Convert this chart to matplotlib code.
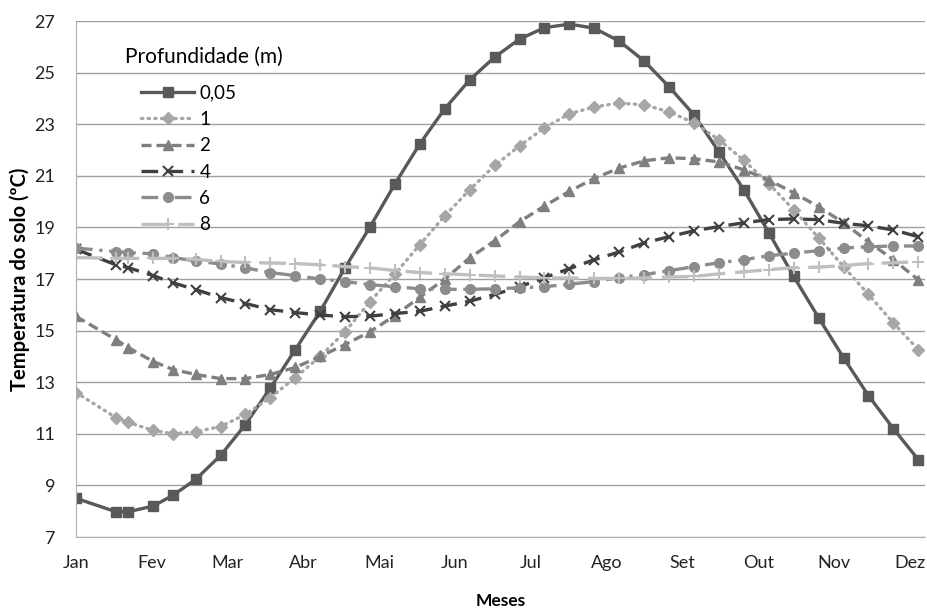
import matplotlib
matplotlib.use("Agg")
import matplotlib.pyplot as plt
import numpy as np

plt.rcParams['font.family'] = ['Lato', 'DejaVu Sans']

# Data (day of year)
days = [0, 16, 21, 31, 39, 48, 58, 68, 78, 88, 98, 108, 118, 128, 138, 148, 158, 168,
        178, 188, 198, 208, 218, 228, 238, 248, 258, 268, 278, 288, 298, 308, 318, 328, 338]

meses = ["Jan", "Fev", "Mar", "Abr", "Mai", "Jun", "Jul", "Ago", "Set", "Out", "Nov", "Dez"]

t_005 = [8.5, 7.98, 7.98, 8.2, 8.62, 9.23, 10.16, 11.36, 12.78, 14.26, 15.75, 17.44, 19.02,
         20.69, 22.24, 23.6, 24.72, 25.6, 26.3, 26.74, 26.88, 26.72, 26.22, 25.45, 24.45,
         23.36, 21.93, 20.46, 18.8, 17.1, 15.5, 13.95, 12.48, 11.2, 10.0]
t_1 = [12.6, 11.63, 11.44, 11.13, 11.0, 11.08, 11.28, 11.75, 12.4, 13.18, 14.0, 14.96, 16.12,
       17.2, 18.33, 19.45, 20.46, 21.4, 22.16, 22.86, 23.4, 23.67, 23.82, 23.75, 23.48,
       23.05, 22.4, 21.6, 20.7, 19.68, 18.6, 17.48, 16.4, 15.3, 14.26]
t_2 = [15.55, 14.65, 14.34, 13.8, 13.49, 13.3, 13.14, 13.14, 13.3, 13.57, 14.0, 14.46, 14.96,
       15.58, 16.3, 17.0, 17.82, 18.48, 19.22, 19.83, 20.4, 20.9, 21.3, 21.58, 21.7,
       21.66, 21.54, 21.23, 20.84, 20.34, 19.8, 19.18, 18.44, 17.75, 16.97]
t_4 = [18.15, 17.55, 17.44, 17.13, 16.85, 16.59, 16.28, 16.05, 15.81, 15.7, 15.6, 15.54, 15.56,
       15.66, 15.75, 15.95, 16.14, 16.4, 16.7, 17.05, 17.4, 17.75, 18.05, 18.4, 18.64,
       18.87, 19.03, 19.18, 19.3, 19.33, 19.3, 19.16, 19.06, 18.9, 18.64]
t_6 = [18.2, 18.06, 18.02, 17.98, 17.83, 17.7, 17.58, 17.43, 17.25, 17.13, 17.0, 16.9, 16.78,
       16.7, 16.62, 16.6, 16.6, 16.62, 16.66, 16.7, 16.8, 16.9, 17.05, 17.17, 17.32,
       17.48, 17.63, 17.75, 17.9, 18.0, 18.1, 18.2, 18.25, 18.28, 18.28]
t_8 = [17.83, 17.8, 17.8, 17.8, 17.8, 17.76, 17.68, 17.64, 17.62, 17.6, 17.55, 17.48, 17.43,
       17.33, 17.25, 17.2, 17.16, 17.12, 17.08, 17.04, 17.04, 17.02, 17.02, 17.04, 17.08,
       17.1, 17.2, 17.28, 17.36, 17.44, 17.46, 17.52, 17.6, 17.63, 17.67]

fig = plt.figure(figsize=(9.27, 6.09), dpi=100)
ax = fig.add_axes([76/927, 1 - 537/609, 849/927, 516/609])

ax.plot(days, t_005, label="0,05", color="#595959", lw=2.4, marker="s", ms=7)
ax.plot(days, t_1, label="1", color="#a6a6a6", lw=2.4, ls=(0, (0.4, 1.6)),
        dash_capstyle="round", marker="D", ms=6)
ax.plot(days, t_2, label="2", color="#7f7f7f", lw=2.4, ls=(0, (3, 1.5)), marker="^", ms=7)
ax.plot(days, t_4, label="4", color="#404040", lw=2.4, ls=(0, (5, 2.5)), marker="x", ms=7, mew=1.5)
ax.plot(days, t_6, label="6", color="#8c8c8c", lw=2.4, ls=(0, (5, 2, 1, 2)), marker="o", ms=7)
ax.plot(days, t_8, label="8", color="#bfbfbf", lw=2.4, ls=(0, (8, 3)), marker="+", ms=8, mew=1.5)

ax.set_xlim(0, 340.7)
ax.set_ylim(7, 27)
ax.set_yticks(np.arange(7, 28, 2))
ax.set_xticks(np.arange(12) * 365 / 12)
ax.set_xticklabels(meses)
ax.grid(axis='y', color="#a0a0a0", lw=1)
ax.set_axisbelow(True)
for s in ['top', 'right']:
    ax.spines[s].set_visible(False)
for s in ['left', 'bottom']:
    ax.spines[s].set_color("#b0b0b0")
ax.tick_params(length=0, labelsize=13, colors="#222222")
ax.tick_params(axis='x', pad=13)
ax.tick_params(axis='y', pad=15)

ax.set_ylabel("Temperatura do solo (ºC)", fontsize=14.5, fontweight="bold", labelpad=3)
ax.set_xlabel("Meses", fontsize=12.5, fontweight="bold", labelpad=16)

fig.text(125/927, 1 - 57/609, "Profundidade (m)", fontsize=15, va="center")
ax.legend(loc="upper left", bbox_to_anchor=(132/927, 1 - 75/609), bbox_transform=fig.transFigure,
          frameon=False, fontsize=13.5, handlelength=2.8, handletextpad=0.3,
          labelspacing=0.5, numpoints=1, borderpad=0)

plt.savefig("out.png", dpi=100)
